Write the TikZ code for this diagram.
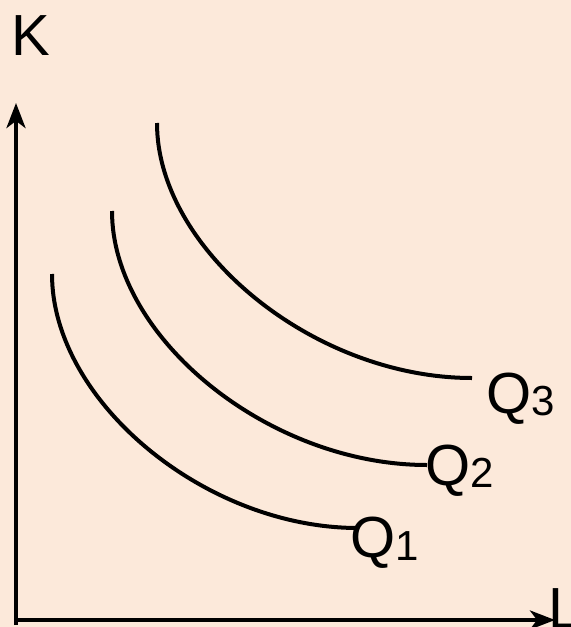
\documentclass[tikz,border=0pt]{standalone}
\usepackage{fontspec}
\setmainfont{Liberation Sans}
\usetikzlibrary{arrows.meta}
\definecolor{isobg}{HTML}{FCE9DA}

\begin{document}
\begin{tikzpicture}[
  x=0.5pt, y=-0.5pt,
  axis/.style={line width=2pt, -{Stealth[length=12.5pt, width=9.5pt, inset=3.5pt]}},
  isoquant/.style={line width=2pt},
  lbl/.style={inner sep=0pt, anchor=base west, font=\fontsize{29}{30}\selectfont},
  sub/.style={font=\fontsize{21}{22}\selectfont}
]
\fill[isobg] (0,0) rectangle (571,627);
\useasboundingbox (0,0) rectangle (571,627);

% axes
\coordinate (origin) at (16,625);
\coordinate (kend) at (16,103);
\coordinate (lstart) at (14,620);
\coordinate (lend) at (555,620);
\draw[axis] (origin) -- (kend);
\draw[axis] (lstart) -- (lend);
\node[lbl] (klabel) at (11,55) {K};
\node[lbl] (llabel) at (548,628) {L};

% isoquants
\coordinate (q1s) at (52,274);
\coordinate (q1e) at (358,528);
\coordinate (q2s) at (112,211);
\coordinate (q2e) at (427,465);
\coordinate (q3s) at (157,123);
\coordinate (q3e) at (472,378);
\draw[isoquant] (q1s) .. controls (52,401) and (205,528) .. (q1e);
\draw[isoquant] (q2s) .. controls (112,338) and (269,465) .. (q2e);
\draw[isoquant] (q3s) .. controls (157,250) and (314,378) .. (q3e);

\node[lbl] (q1) at (350,557) {Q{\fontsize{21}{22}\selectfont\raisebox{-1.5pt}{1}}};
\node[lbl] (q2) at (425,485) {Q{\fontsize{21}{22}\selectfont\raisebox{-1pt}{2}}};
\node[lbl] (q3) at (486,413) {Q{\fontsize{21}{22}\selectfont\raisebox{-1pt}{3}}};
\end{tikzpicture}
\end{document}
